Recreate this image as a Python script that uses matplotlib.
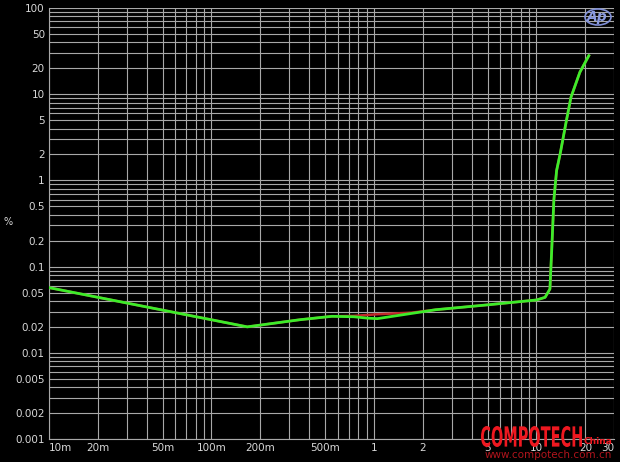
import numpy as np
import matplotlib.pyplot as plt
from matplotlib.patches import Ellipse, PathPatch
from matplotlib.textpath import TextPath
from matplotlib.font_manager import FontProperties
from matplotlib.transforms import Affine2D

# data (Hz, %)
freq_green = [0.01, 0.166, 0.35, 0.55, 0.75, 0.92, 1.05, 1.3, 2.4, 5.0, 10.0, 11.3, 12.1, 12.4, 12.8, 13.3, 14.0, 15.3, 16.3, 18.5, 21.0]
thd_green = [0.057, 0.020, 0.0242, 0.0265, 0.0262, 0.0252, 0.0249, 0.0265, 0.0316, 0.036, 0.041, 0.044, 0.055, 0.15, 0.6, 1.3, 2.05, 5.0, 9.2, 18.0, 28.0]

freq_red = [0.01, 0.166, 0.35, 0.55, 0.75, 1.05, 1.7, 2.4, 5.0, 10.0, 11.3, 12.1, 12.4, 12.8, 13.3, 14.0, 15.3, 16.3, 18.5, 21.0]
thd_red = [0.057, 0.020, 0.0242, 0.0265, 0.0268, 0.0280, 0.0292, 0.0316, 0.036, 0.041, 0.044, 0.055, 0.15, 0.6, 1.3, 2.05, 5.0, 9.2, 18.0, 28.0]

xticks = [0.01, 0.02, 0.05, 0.1, 0.2, 0.5, 1, 2, 5, 10, 20, 30]
xlabels = ["10m", "20m", "50m", "100m", "200m", "500m", "1", "2", "5", "10", "20", "30"]
yticks = [0.001, 0.002, 0.005, 0.01, 0.02, 0.05, 0.1, 0.2, 0.5, 1, 2, 5, 10, 20, 50, 100]
ylabels = ["0.001", "0.002", "0.005", "0.01", "0.02", "0.05", "0.1", "0.2", "0.5", "1", "2", "5", "10", "20", "50", "100"]

fig = plt.figure(figsize=(6.2, 4.62), dpi=100, facecolor="black")
ax = fig.add_axes([49 / 620, 23 / 462, 565 / 620, 431 / 462], facecolor="black")

ax.set_xscale("log")
ax.set_yscale("log")
ax.set_xlim(0.01, 30)
ax.set_ylim(0.001, 100)

# grid at every 1..9 step of each decade
gx = [m * 10.0 ** e for e in range(-2, 2) for m in range(1, 10) if 0.01 <= m * 10.0 ** e <= 30]
gy = [m * 10.0 ** e for e in range(-3, 3) for m in range(1, 10) if 0.001 <= m * 10.0 ** e <= 100]
for v in gx:
    ax.axvline(v, color="#a8a8a8", lw=0.8, zorder=1)
for v in gy:
    ax.axhline(v, color="#a8a8a8", lw=0.8, zorder=1)

ax.plot(freq_red, thd_red, color="#c0282a", lw=1.8, zorder=2)
ax.plot(freq_green, thd_green, color="#3cec2a", lw=2.0, zorder=3)

ax.minorticks_off()
ax.set_xticks(xticks)
ax.set_xticklabels(xlabels)
ax.set_yticks(yticks)
ax.set_yticklabels(ylabels)
ax.tick_params(colors="#d8d8d8", labelsize=7.5, length=0, pad=3)
xt = ax.get_xticklabels()
xt[0].set_ha("left")
xt[-1].set_ha("right")
for s in ax.spines.values():
    s.set_color("#a8a8a8")
    s.set_linewidth(0.8)
ax.spines["top"].set_visible(False)
ax.spines["right"].set_visible(False)

fig.text(3 / 620, 1 - 222 / 462, "%", color="#d8d8d8", fontsize=7, va="center")

# overlay in pixel coords for logo and watermark
ax2 = fig.add_axes([0, 0, 1, 1], facecolor="none")
ax2.set_xlim(0, 620)
ax2.set_ylim(462, 0)
ax2.axis("off")
ax2.add_patch(Ellipse((598, 17), 26, 16, fill=False, ec="#7f8fd8", lw=1.2))
ax2.text(597, 17, "Ap", color="#8a9ae0", fontsize=10, fontstyle="italic", fontweight="bold", ha="center", va="center")

# condensed watermark word
tp = TextPath((0, 0), "COMPOTECH", size=10, prop=FontProperties(family="DejaVu Sans", weight="bold"))
bb = tp.get_extents()
tr = Affine2D().translate(-bb.x0, -bb.y0).scale(101 / bb.width, -21 / bb.height).translate(481, 447)
ax2.add_patch(PathPatch(tr.transform_path(tp), color="#ee1820", lw=0))
ax2.text(583, 441, "China", color="#ee1820", fontsize=6.5, fontweight="bold", ha="left", va="center")
ax2.text(485, 455, "www.compotech.com.cn", color="#b0141c", fontsize=7.5, ha="left", va="center")

fig.savefig("out.png", dpi=100, facecolor="black")
